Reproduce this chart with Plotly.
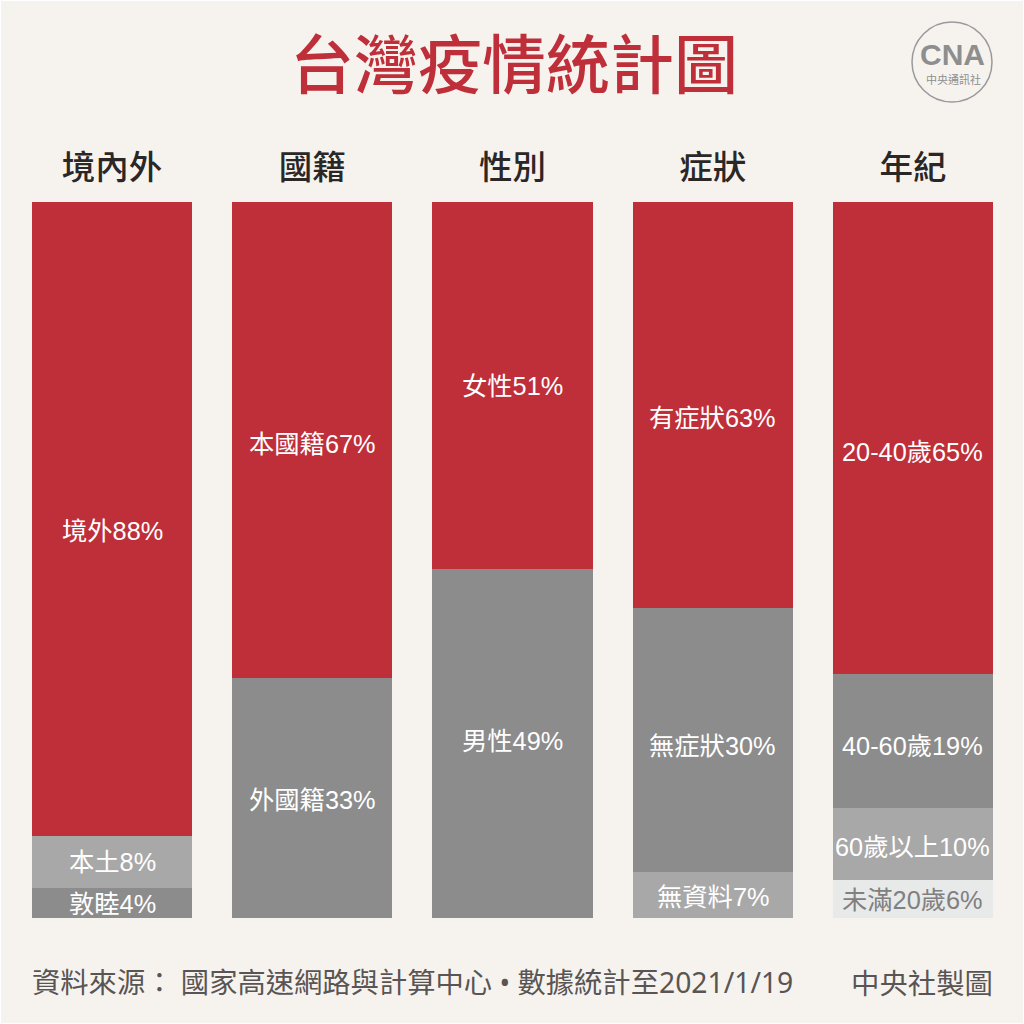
import plotly.graph_objects as go

categories = ['境內外', '國籍', '性別', '症狀', '年紀']

# bar heights as drawn in the picture, in stacking order from the top
seg_top = [88.5, 66.5, 51.3, 56.7, 65.9]
seg_second = [7.3, 33.5, 48.7, 36.9, 18.7]
seg_third = [4.2, 0, 0, 6.4, 10.1]
seg_fourth = [0, 0, 0, 0, 5.3]

labels_top = ['境外88%', '本國籍67%', '女性51%', '有症狀63%', '20-40歲65%']
labels_second = ['本土8%', '外國籍33%', '男性49%', '無症狀30%', '40-60歲19%']
labels_third = ['敦睦4%', '', '', '無資料7%', '60歲以上10%']
labels_fourth = ['', '', '', '', '未滿20歲6%']

# label offset from the middle of each segment, px (up is positive)
shift_top = [-12, -4, 0, -13, -14]
shift_second = [0, -2, 3, -6, -5]
shift_third = [-1, 0, 0, -2, -3]
shift_fourth = [0, 0, 0, 0, -1]

RED = '#BE2F3A'
GREY = '#8C8C8C'
LIGHT = '#A8A8A8'
PALE = '#E8E9E9'
BG = '#F6F3EF'
TEXT = '#595555'
LOGO = '#8E8E8E'

colors_second = [LIGHT, GREY, GREY, GREY, GREY]
colors_third = [GREY, LIGHT, LIGHT, LIGHT, LIGHT]

LABEL_FONT = 'Liberation Sans, Noto Sans CJK TC'
CJK_FONT = 'Noto Sans CJK TC'
FOOT_FONT = 'Noto Sans, Noto Sans CJK TC'


def px_x(x):
    return (x - 12) / 1001


def px_y(y):
    return (918 - y) / 716


def page_text(x, y, text, font, xanchor='center'):
    fig.add_annotation(xref='paper', yref='paper', x=px_x(x), y=px_y(y), text=text,
                       xanchor=xanchor, yanchor='middle', showarrow=False, font=font)


fig = go.Figure()
fig.add_trace(go.Bar(x=categories, y=seg_top, marker_color=RED))
fig.add_trace(go.Bar(x=categories, y=seg_second, marker_color=colors_second))
fig.add_trace(go.Bar(x=categories, y=seg_third, marker_color=colors_third))
fig.add_trace(go.Bar(x=categories, y=seg_fourth, marker_color=PALE))
fig.update_traces(marker_line_width=0, hoverinfo='skip')

# segment labels
stack = [0] * len(categories)
levels = [
    (seg_top, labels_top, shift_top, 'white'),
    (seg_second, labels_second, shift_second, 'white'),
    (seg_third, labels_third, shift_third, 'white'),
    (seg_fourth, labels_fourth, shift_fourth, '#808080'),
]
for values, labels, shifts, color in levels:
    for i, cat in enumerate(categories):
        if labels[i]:
            fig.add_annotation(x=cat, y=stack[i] + values[i] / 2, text=labels[i],
                               yshift=shifts[i], showarrow=False,
                               font=dict(family=LABEL_FONT, size=25.3, color=color))
        stack[i] += values[i]

# title and footer
page_text(514, 60, '台灣疫情統計圖', dict(family=CJK_FONT, size=64, color=RED, weight=500))
page_text(30, 982, '資料來源： 國家高速網路與計算中心 • 數據統計至2021/1/19',
          dict(family=FOOT_FONT, size=28.3, color=TEXT), xanchor='left')
page_text(995, 982, '中央社製圖', dict(family=CJK_FONT, size=28.4, color=TEXT), xanchor='right')

# logo
fig.add_shape(type='circle', xref='paper', yref='paper',
              x0=px_x(912), x1=px_x(992), y0=px_y(102), y1=px_y(22),
              line=dict(color='#9A9A9A', width=1.5))
page_text(952, 55, '<b>CNA</b>', dict(family='Liberation Sans', size=30, color=LOGO))
page_text(953, 79, '中央通訊社', dict(family=CJK_FONT, size=11, color=LOGO))

# thin pale edge around the page
fig.add_shape(type='rect', xref='paper', yref='paper',
              x0=px_x(0), x1=px_x(1024), y0=px_y(1024), y1=px_y(0),
              line=dict(color='#FFFFFF', width=2))

fig.update_layout(
    barmode='stack',
    bargap=0.2,
    width=1024,
    height=1024,
    showlegend=False,
    paper_bgcolor=BG,
    plot_bgcolor=BG,
    margin=dict(l=12, r=11, t=202, b=106),
)
fig.update_xaxes(side='top', ticks='outside', ticklen=9, tickcolor='rgba(0,0,0,0)',
                 showline=False, showgrid=False,
                 tickfont=dict(family=CJK_FONT, size=33.5, color='#2B2727', weight=500))
fig.update_yaxes(range=[100, 0], visible=False)

fig.write_html('out.html', config={'displayModeBar': False},
               post_script="document.body.style.margin='0';")
